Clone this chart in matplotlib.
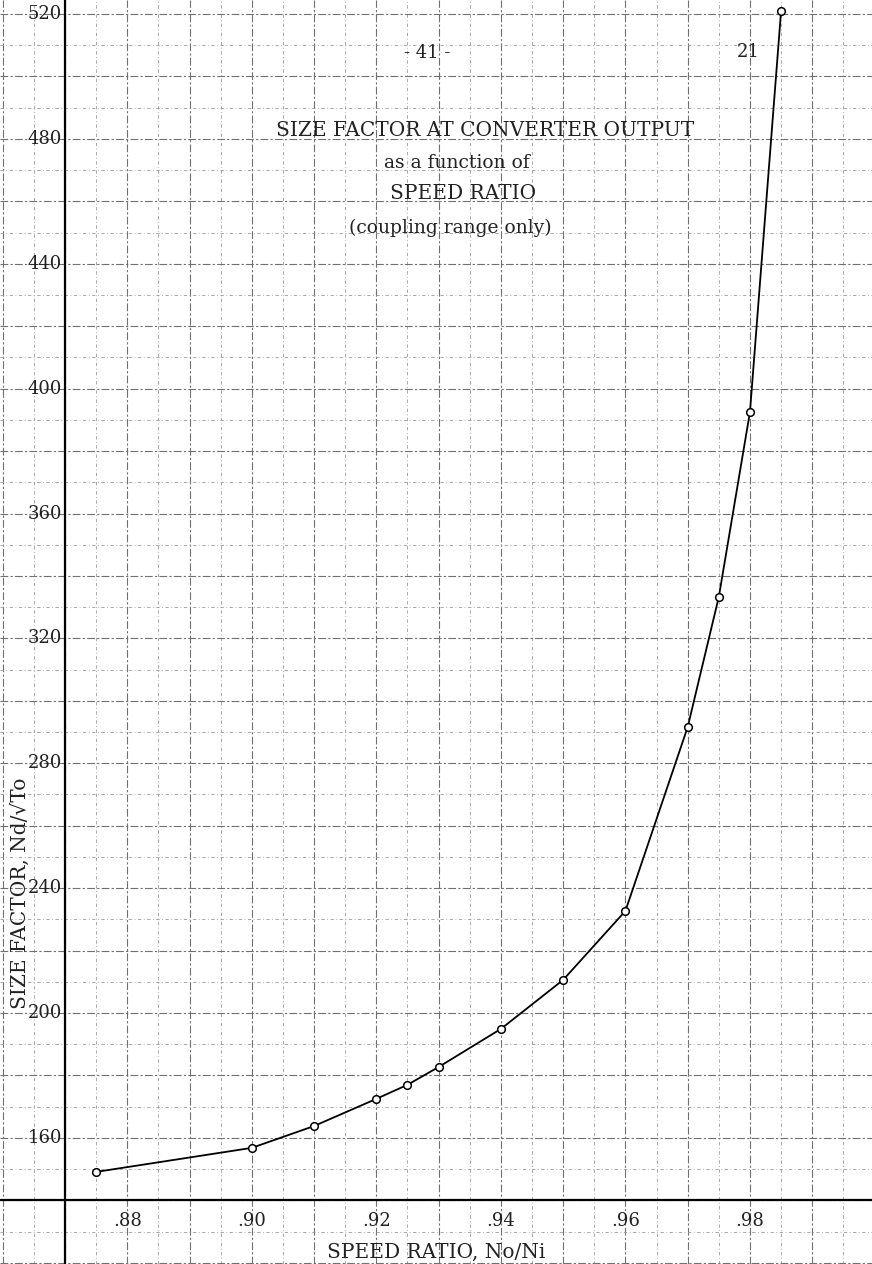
import matplotlib
matplotlib.use('Agg')
import matplotlib.pyplot as plt
import numpy as np

# speed ratio No/Ni and size factor Nd/sqrt(To)
speed_ratio = [0.875, 0.90, 0.91, 0.92, 0.925, 0.93, 0.94, 0.95, 0.96, 0.97, 0.975, 0.98, 0.985]
size_factor = [149.1, 156.8, 163.8, 172.5, 177.0, 182.7, 194.9, 210.6, 232.7, 291.6, 333.3, 392.5, 521.0]

x_ticks = [0.88, 0.90, 0.92, 0.94, 0.96, 0.98]
x_tick_labels = ['.88', '.90', '.92', '.94', '.96', '.98']
y_ticks = [160, 200, 240, 280, 320, 360, 400, 440, 480, 520]

plt.rcParams['font.family'] = ['DejaVu Serif']
ink = '#222222'

fig = plt.figure(figsize=(8.72, 12.64), dpi=100)
ax = fig.add_axes([0, 0, 1, 1])
for s in ax.spines.values():
    s.set_visible(False)

# graph paper
ax.set_xticks(np.arange(0.86, 1.001, 0.01))
ax.set_xticks(np.arange(0.865, 1.001, 0.01), minor=True)
ax.set_yticks(np.arange(120, 525, 20))
ax.set_yticks(np.arange(130, 525, 20), minor=True)
ax.tick_params(which='both', length=0, labelbottom=False, labelleft=False)
ax.grid(which='major', color='#707070', lw=0.8, ls=(0, (7, 2, 2, 2)))
ax.grid(which='minor', color='#9a9a9a', lw=0.6, ls=(0, (4, 3, 1, 3)))
# limits after the ticks, otherwise set_xticks widens them
ax.set_xlim(0.85956, 0.9996)
ax.set_ylim(119.6, 524.5)

# the drawn axes
ax.axvline(0.87, color='black', lw=1.6)
ax.axhline(140, color='black', lw=1.6)

ax.plot(speed_ratio, size_factor, color='black', lw=1.3, marker='o', ms=5.5,
        mfc='white', mec='black', mew=1.1, zorder=5)

for t, lab in zip(x_ticks, x_tick_labels):
    ax.text(t, 133.5, lab, ha='center', va='center', fontsize=13, color=ink)
for t in y_ticks:
    ax.text(0.8695, t, str(t), ha='right', va='center', fontsize=13, color=ink)

ax.text(0.5, 0.0095, 'SPEED RATIO, No/Ni', transform=ax.transAxes,
        ha='center', va='center', fontsize=14.5, color=ink)
ax.text(0.023, 0.2935, 'SIZE FACTOR, Nd/\u221aTo', transform=ax.transAxes,
        ha='center', va='center', rotation=90, fontsize=14.5, color=ink)

ax.text(0.49, 0.958, '- 41 -', transform=ax.transAxes, ha='center', va='center',
        fontsize=13, color=ink)
ax.text(0.858, 0.959, '21', transform=ax.transAxes, ha='center', va='center',
        fontsize=13, color=ink)
ax.text(0.556, 0.897, 'SIZE FACTOR AT CONVERTER OUTPUT', transform=ax.transAxes,
        ha='center', va='center', fontsize=14.5, color=ink)
ax.text(0.524, 0.871, 'as a function of', transform=ax.transAxes,
        ha='center', va='center', fontsize=13.5, color=ink)
ax.text(0.531, 0.847, 'SPEED RATIO', transform=ax.transAxes,
        ha='center', va='center', fontsize=14.5, color=ink)
ax.text(0.516, 0.820, '(coupling range only)', transform=ax.transAxes,
        ha='center', va='center', fontsize=13.5, color=ink)

fig.savefig('out.png', dpi=100)
